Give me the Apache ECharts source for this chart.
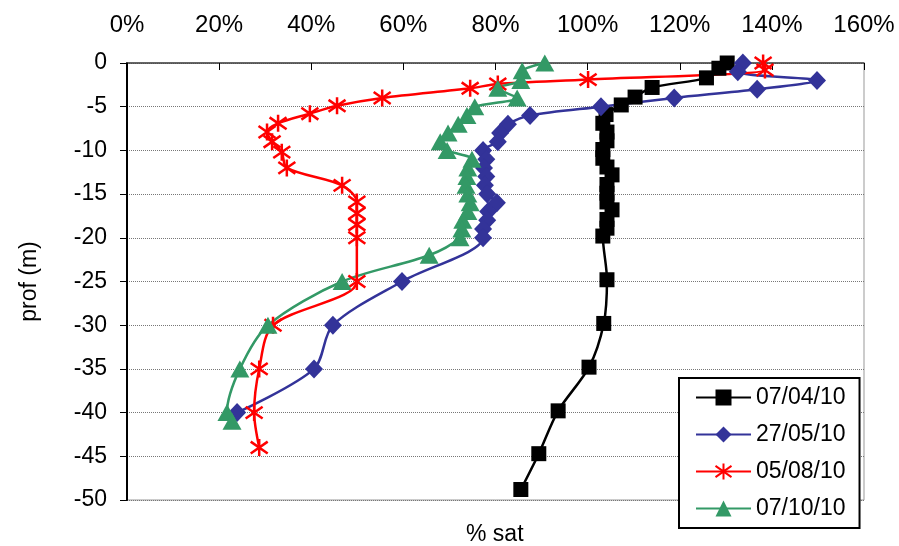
<!DOCTYPE html>
<html>
<head>
<meta charset="utf-8">
<script src="https://cdn.jsdelivr.net/npm/echarts@6/dist/echarts.min.js"></script>
<style>
  html, body { margin: 0; padding: 0; background: #fff; }
  #chart { width: 899px; height: 546px; }
</style>
</head>
<body>
<div id="chart"></div>
<script>
var seriesNames = ['07/04/10', '27/05/10', '05/08/10', '07/10/10'];

// 07/04/10
var satApr = [130.3, 128.5, 125.8, 114.0, 110.3, 107.3, 104.0, 103.3, 104.2, 104.2, 103.3, 103.3, 104.2, 105.3,
    104.2, 104.2, 104.2, 105.3, 104.2, 104.2, 103.3, 104.2, 103.5, 100.3, 93.6, 89.4, 85.5];
var depthApr = [0, -0.6, -1.7, -2.8, -3.9, -4.8, -5.9, -6.9, -7.9, -8.9, -9.9, -10.9, -11.9, -12.8,
    -13.9, -14.9, -15.9, -16.8, -17.9, -18.9, -19.8, -24.8, -29.8, -34.8, -39.8, -44.7, -48.8];

// 27/05/10
var satMay = [133.7, 132.6, 149.8, 136.8, 118.8, 102.9, 87.5, 82.7, 81.0, 80.5, 77.3, 78.0, 77.5, 78.0,
    77.7, 78.2, 80.3, 78.4, 78.2, 77.3, 77.3, 59.7, 44.7, 40.6, 23.9];
var depthMay = [0, -1, -2, -3, -4, -5, -6, -7, -8, -9, -10, -11, -12, -13,
    -14, -15, -16, -17, -18, -19, -20, -25, -30, -35, -40];

// 05/08/10
var satAug = [138.1, 138.5, 100.1, 80.5, 74.5, 55.4, 45.6, 39.7, 32.8, 30.4, 31.5, 33.6, 34.7, 46.7,
    49.9, 49.9, 49.9, 49.9, 49.9, 31.7, 28.7, 27.6, 28.7];
var depthAug = [0, -0.8, -1.9, -2.4, -2.9, -4, -4.9, -5.8, -6.9, -7.9, -9, -10.2, -12, -14,
    -15.9, -17.2, -18.5, -20, -25, -30, -35, -40, -44];

// 07/10/10
var satOct = [90.7, 85.8, 85.5, 80.5, 84.7, 75.5, 73.8, 71.9, 69.7, 68.0, 69.5, 74.9, 74.0, 73.8,
    73.6, 74.0, 74.5, 74.0, 72.9, 72.7, 72.3, 65.6, 46.7, 30.6, 24.5, 21.7, 22.8];
var depthOct = [0, -0.9, -2, -2.9, -4, -5, -6, -7, -8, -9, -10, -11, -12, -13,
    -14, -15, -16, -17, -18, -19, -20, -22, -25, -30, -35, -40, -41];

var font = 'Liberation Sans';
var asterisk = 'path://M10,0 L10,20 M3,3 L17,17 M17,3 L3,17';

function pairs(xs, ys) {
    var out = [];
    for (var i = 0; i < xs.length; i++) {
        out.push([xs[i], ys[i]]);
    }
    return out;
}

function profile(name, xs, ys, color, symbol, size, extra) {
    var s = {
        name: name,
        type: 'line',
        smooth: 0.3,
        data: pairs(xs, ys),
        symbol: symbol,
        symbolSize: size,
        lineStyle: { color: color, width: 2.5 },
        itemStyle: { color: color }
    };
    if (extra) {
        s.itemStyle = extra;
    }
    return s;
}

var myChart = echarts.init(document.getElementById('chart'));

var option = {
    animation: false,
    backgroundColor: '#fff',
    textStyle: { fontFamily: font },
    grid: {
        left: 127,
        right: 35,
        top: 63,
        bottom: 46,
        show: true,
        borderColor: '#999',
        borderWidth: 1,
        containLabel: false,
        outerBoundsMode: 'none'
    },
    legend: {
        data: seriesNames,
        orient: 'vertical',
        left: 679,
        top: 378,
        padding: [8, 14, 8, 16],
        itemGap: 14,
        itemWidth: 55,
        itemHeight: 20,
        backgroundColor: '#fff',
        borderColor: '#000',
        borderWidth: 2,
        borderRadius: 0,
        textStyle: { fontSize: 23, color: '#000', fontFamily: font }
    },
    graphic: [{
        type: 'text',
        left: 466,
        top: 523,
        style: { text: '% sat', fontSize: 23, fontFamily: font, fill: '#000' }
    }],
    xAxis: {
        type: 'value',
        position: 'top',
        min: 0,
        max: 160,
        interval: 20,
        axisLine: { show: true, lineStyle: { color: '#444', width: 1.5 } },
        axisTick: { show: true, inside: true, length: 7, lineStyle: { color: '#000' } },
        axisLabel: { formatter: '{value}%', fontSize: 24, color: '#000', margin: 26, fontFamily: font },
        splitLine: { show: false }
    },
    yAxis: {
        type: 'value',
        min: -50,
        max: 0,
        interval: 5,
        name: 'prof (m)',
        nameLocation: 'middle',
        nameRotate: 90,
        nameGap: 86,
        nameTextStyle: { fontSize: 23, color: '#000', fontFamily: font },
        axisLine: { show: true, onZero: false, lineStyle: { color: '#000', width: 2 } },
        axisTick: { show: true, length: 7, lineStyle: { color: '#000' } },
        axisLabel: { fontSize: 23, color: '#000', margin: 20, fontFamily: font },
        splitLine: { show: true, lineStyle: { color: '#777', type: 'dotted', width: 1 } }
    },
    series: [
        profile(seriesNames[0], satApr, depthApr, '#000000', 'rect', 15),
        profile(seriesNames[1], satMay, depthMay, '#333399', 'diamond', [18, 19]),
        profile(seriesNames[2], satAug, depthAug, '#ff0000', asterisk, 17,
            { color: '#ff0000', borderColor: '#ff0000', borderWidth: 2.5 }),
        profile(seriesNames[3], satOct, depthOct, '#339966', 'triangle', [19, 17])
    ]
};

myChart.setOption(option);
</script>
</body>
</html>
